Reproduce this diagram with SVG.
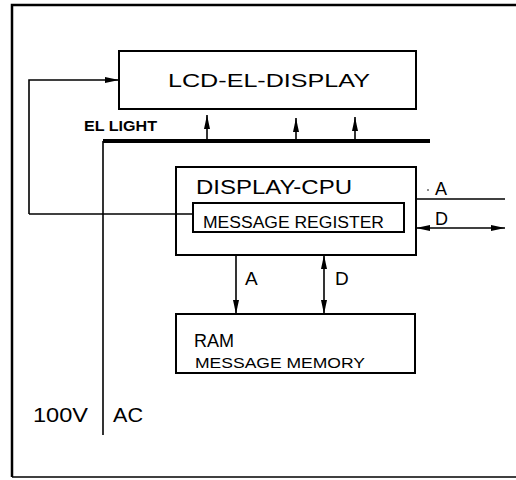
<svg xmlns="http://www.w3.org/2000/svg" width="516" height="480" viewBox="0 0 516 480">
<style>
.box{fill:none;stroke:#000;stroke-width:2}
.ln{fill:none;stroke:#000;stroke-width:1.6}
text{font-family:"Liberation Sans",Arial,sans-serif;fill:#000}
</style>
<defs>
<marker id="ah" viewBox="0 0 14 6" refX="14" refY="3" markerWidth="14" markerHeight="6" markerUnits="userSpaceOnUse" orient="auto-start-reverse">
<path d="M0,0 L14,3 L0,6 z" fill="#000"/>
</marker>
</defs>
<rect width="516" height="480" fill="#fff"/>
<g id="frame">
<path d="M12,477 V5 H516" fill="none" stroke="#000" stroke-width="2.5"/>
<path d="M12,477 H516" fill="none" stroke="#000" stroke-width="1.5"/>
</g>
<g id="lcd">
<rect class="box" x="119" y="51" width="297" height="58"/>
<text x="168" y="87" font-size="19" textLength="202" lengthAdjust="spacingAndGlyphs">LCD-EL-DISPLAY</text>
</g>
<g id="cpu">
<rect class="box" x="176" y="167" width="240" height="88"/>
<text x="196" y="194" font-size="20" textLength="156" lengthAdjust="spacingAndGlyphs">DISPLAY-CPU</text>
</g>
<g id="msgreg">
<rect class="box" x="193" y="203" width="211" height="29"/>
<text x="203" y="228" font-size="16" textLength="181" lengthAdjust="spacingAndGlyphs">MESSAGE REGISTER</text>
</g>
<g id="ram">
<rect class="box" x="176" y="314" width="239" height="59"/>
<text x="194" y="347" font-size="19" textLength="40" lengthAdjust="spacingAndGlyphs">RAM</text>
<text x="195" y="368" font-size="15" textLength="170" lengthAdjust="spacingAndGlyphs">MESSAGE MEMORY</text>
</g>
<g id="power">
<text x="33" y="422" font-size="20" textLength="55" lengthAdjust="spacingAndGlyphs">100V</text>
<text x="113" y="422" font-size="20" textLength="30" lengthAdjust="spacingAndGlyphs">AC</text>
</g>
<g id="ellight">
<text x="84" y="131" font-size="14" font-weight="bold" textLength="73" lengthAdjust="spacingAndGlyphs">EL LIGHT</text>
<path d="M103,141 H430" fill="none" stroke="#000" stroke-width="4"/>
</g>
<g id="connectors">
<path class="ln" d="M29,214 V80 H119" marker-end="url(#ah)"/>
<path class="ln" d="M29,214 H193"/>
<path class="ln" d="M103,141 V435"/>
<path class="ln" d="M207,139 V115" marker-end="url(#ah)"/>
<path class="ln" d="M296,139 V118" marker-end="url(#ah)"/>
<path class="ln" d="M355,139 V117" marker-end="url(#ah)"/>
<path class="ln" d="M416,199 H505"/>
<path class="ln" d="M416,228 H505" marker-start="url(#ah)" marker-end="url(#ah)"/>
<path class="ln" d="M236,255 V314" marker-end="url(#ah)"/>
<path class="ln" d="M324,255 V314" marker-start="url(#ah)" marker-end="url(#ah)"/>
<text x="435" y="195" font-size="18">A</text>
<circle cx="428" cy="190" r="0.8" fill="#000"/>
<text x="435" y="225" font-size="18">D</text>
<text x="245" y="285" font-size="19">A</text>
<text x="335" y="285" font-size="19">D</text>
</g>
</svg>
